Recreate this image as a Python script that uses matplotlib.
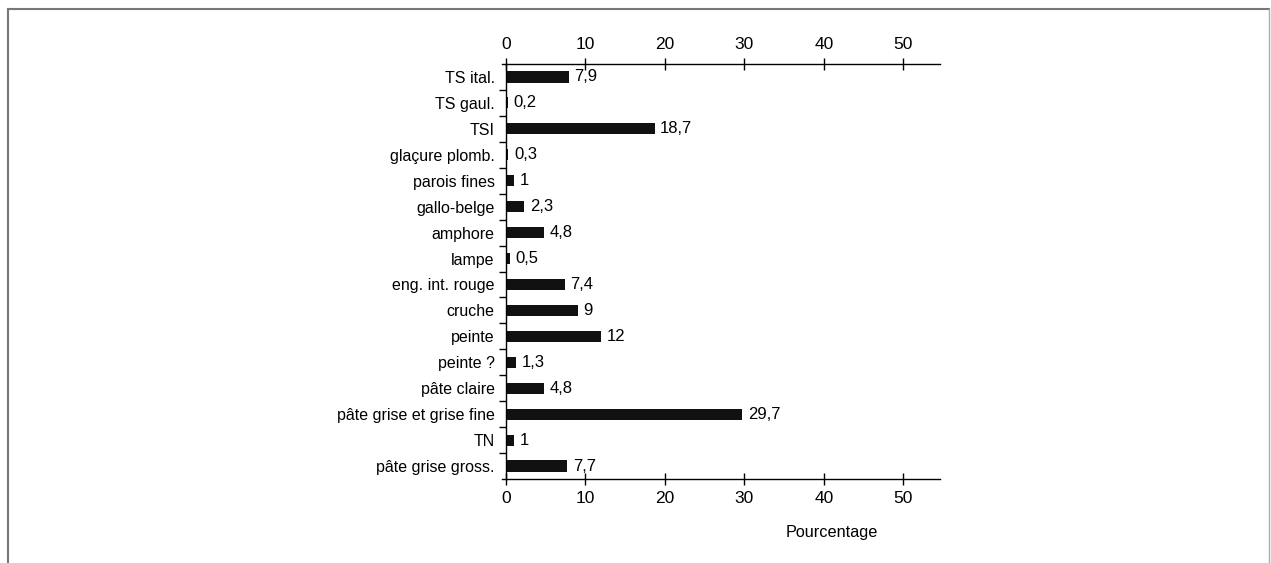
import matplotlib
matplotlib.use("Agg")
import matplotlib.pyplot as plt
from matplotlib.lines import Line2D

categories = ["TS ital.", "TS gaul.", "TSI", "glaçure plomb.", "parois fines",
              "gallo-belge", "amphore", "lampe", "eng. int. rouge", "cruche",
              "peinte", "peinte ?", "pâte claire", "pâte grise et grise fine",
              "TN", "pâte grise gross."]
values = [7.9, 0.2, 18.7, 0.3, 1, 2.3, 4.8, 0.5, 7.4, 9, 12, 1.3, 4.8, 29.7, 1, 7.7]
xticks = [0, 10, 20, 30, 40, 50]

plt.rcParams['font.family'] = ['Liberation Sans', 'DejaVu Sans']

fig = plt.figure(figsize=(12.71, 5.63), dpi=100)
ax = fig.add_axes([502 / 1271, 1 - 479 / 563, 438 / 1271, 415 / 563])

pos = list(range(len(categories)))
ax.barh(pos, values, height=0.43, color='#111111')
for y, v in zip(pos, values):
    lab = f"{v:g}".replace('.', ',')
    ax.text(v + 0.7, y, lab, va='center', ha='left', fontsize=12)

ax.set_ylim(len(categories) - 0.5, -0.5)
ax.set_xlim(-0.5, 54.6)

ax.set_yticks(pos)
ax.set_yticklabels(categories)
ax.set_yticks([p + 0.5 for p in pos[:-1]], minor=True)
ax.tick_params(axis='y', which='major', length=0, pad=8, labelsize=11.5)
ax.tick_params(axis='y', which='minor', length=5, direction='out', width=1)

ax.set_xticks(xticks)
ax.tick_params(axis='x', which='both', top=True, labeltop=True, bottom=True,
               labelbottom=True, direction='inout', length=9, width=1,
               labelsize=12.5, pad=4)

ax.spines['right'].set_visible(False)
ax.spines['left'].set_position(('data', 0))
for s in ax.spines.values():
    s.set_linewidth(1)

ax.set_xlabel("Pourcentage", fontsize=11.7)
ax.xaxis.set_label_coords(0.753, -0.11)

# frame around the figure
c = '#777777'
x0, x1, yt = 8 / 1271, 1269 / 1271, 1 - 9 / 563
fig.add_artist(Line2D([x0, x0], [0, yt], color=c, lw=1.5, transform=fig.transFigure))
fig.add_artist(Line2D([x0, x1], [yt, yt], color=c, lw=1.5, transform=fig.transFigure))
fig.add_artist(Line2D([x1, x1], [0, yt], color='#aaaaaa', lw=1, transform=fig.transFigure))

fig.savefig("out.png", dpi=100)
